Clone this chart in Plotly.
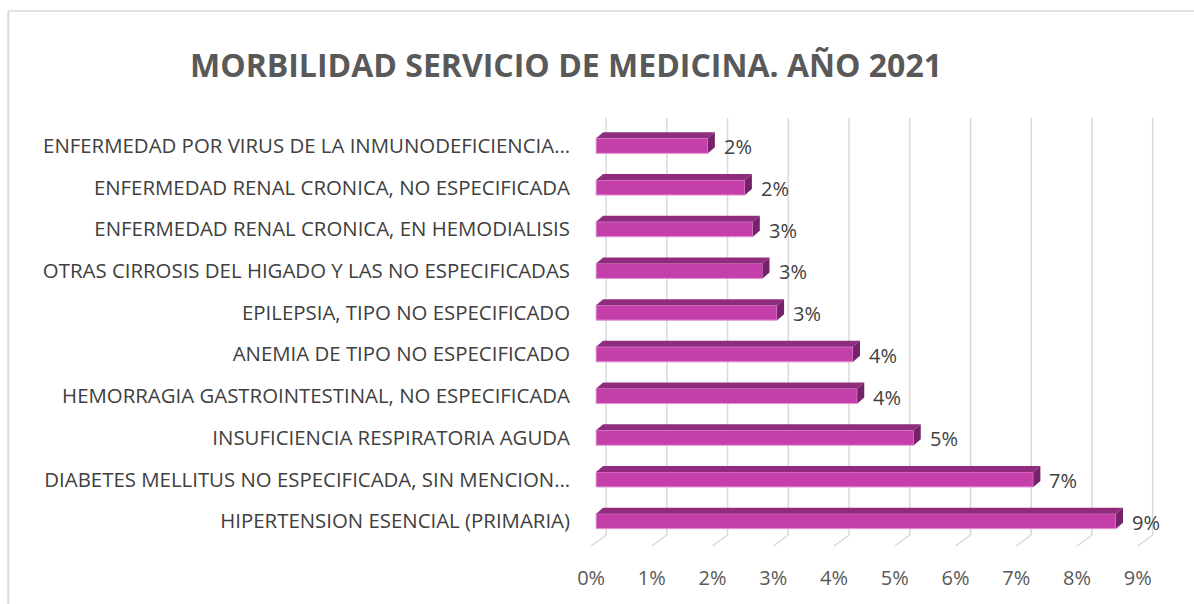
import plotly.graph_objects as go

categories = [
    "ENFERMEDAD POR VIRUS DE LA INMUNODEFICIENCIA…",
    "ENFERMEDAD RENAL CRONICA, NO ESPECIFICADA",
    "ENFERMEDAD RENAL CRONICA, EN HEMODIALISIS",
    "OTRAS CIRROSIS DEL HIGADO Y LAS NO ESPECIFICADAS",
    "EPILEPSIA, TIPO NO ESPECIFICADO",
    "ANEMIA DE TIPO NO ESPECIFICADO",
    "HEMORRAGIA GASTROINTESTINAL, NO ESPECIFICADA",
    "INSUFICIENCIA RESPIRATORIA AGUDA",
    "DIABETES MELLITUS NO ESPECIFICADA, SIN MENCION…",
    "HIPERTENSION ESENCIAL (PRIMARIA)",
]
values = [1.84, 2.45, 2.58, 2.74, 2.98, 4.23, 4.30, 5.23, 7.20, 8.56]
value_labels = ["2%", "2%", "3%", "3%", "3%", "4%", "4%", "5%", "7%", "9%"]
x_ticks = [0, 1, 2, 3, 4, 5, 6, 7, 8, 9]
x_tick_labels = ["0%", "1%", "2%", "3%", "4%", "5%", "6%", "7%", "8%", "9%"]

FONT = "Open Sans"
FRONT = "#C43FA9"
TOP = "#8F2C7E"
SIDE = "#76226A"
GRID = "#D9D9D9"

# pixel geometry of the plot area
W, H = 1194, 604
ppu = 60.75              # pixels per x unit
zero_px = 596            # pixel of x=0 (bar start)
xmin, xmax = -0.15, 9.4
L = zero_px + xmin * ppu
R = W - (zero_px + xmax * ppu)
T, B = 125, 62
pw = W - L - R
ph = H - T - B
ypu = ph / 10.0          # pixels per category

bar_w = 0.36
dx = 7 / ppu             # depth offset (x)
dy = 6 / ypu             # depth offset (y)
back_dx = 10 / ppu       # back wall offset for gridlines
front_dx = -5 / ppu      # front edge of floor

idx = list(range(len(categories)))

fig = go.Figure()

# front faces
fig.add_trace(go.Bar(
    x=values, y=idx, orientation="h", width=bar_w,
    marker=dict(color=FRONT, line=dict(color="#E394D6", width=1)),
    hoverinfo="skip", showlegend=False,
))

# top and side faces (3D effect)
for i, v in zip(idx, values):
    yt = i - bar_w / 2
    yb = i + bar_w / 2
    fig.add_trace(go.Scatter(
        x=[0, v, v + dx, dx, 0], y=[yt, yt, yt - dy, yt - dy, yt],
        fill="toself", fillcolor=TOP, mode="lines",
        line=dict(width=0, color=TOP), hoverinfo="skip", showlegend=False))
    fig.add_trace(go.Scatter(
        x=[v, v, v + dx, v + dx, v], y=[yt, yb, yb - dy, yt - dy, yt],
        fill="toself", fillcolor=SIDE, mode="lines",
        line=dict(width=0, color=SIDE), hoverinfo="skip", showlegend=False))

# data labels
for i, v, lab in zip(idx, values, value_labels):
    fig.add_annotation(x=v, y=i, text=lab, showarrow=False, xanchor="left",
                       yanchor="middle", xshift=14, yshift=-1,
                       font=dict(family=FONT, size=20, color="#404040"))

# gridlines on the back wall + floor diagonals
shapes = []
y_top_px, y_back_px, y_front_px = 118, 535, 546
def py(p):
    return (H - B - p) / ph
def px(p):
    return (p - L) / pw
for t in x_ticks:
    shapes.append(dict(type="line", xref="x", yref="paper",
                       x0=t + back_dx, x1=t + back_dx, y0=py(y_back_px), y1=py(y_top_px),
                       line=dict(color=GRID, width=1.5), layer="below"))
    shapes.append(dict(type="line", xref="x", yref="paper",
                       x0=t + back_dx, x1=t + front_dx, y0=py(y_back_px), y1=py(y_front_px),
                       line=dict(color=GRID, width=1.5), layer="below"))
# chart border (left and top edges only visible)
shapes.append(dict(type="line", xref="paper", yref="paper",
                   x0=px(8), x1=px(W + 5), y0=py(11), y1=py(11),
                   line=dict(color="#D9D9D9", width=1.5), layer="below"))
shapes.append(dict(type="line", xref="paper", yref="paper",
                   x0=px(8), x1=px(8), y0=py(11), y1=py(H + 5),
                   line=dict(color="#D9D9D9", width=2), layer="below"))

fig.update_layout(
    width=W, height=H,
    margin=dict(l=L, r=R, t=T, b=B, pad=0),
    paper_bgcolor="white", plot_bgcolor="white",
    shapes=shapes,
    showlegend=False,
    title=dict(text="<b>MORBILIDAD SERVICIO DE MEDICINA. AÑO 2021</b>",
               x=566 / W, xanchor="center", y=1 - 66 / H, yanchor="middle",
               xref="container", yref="container",
               font=dict(family=FONT, size=32, color="#595959")),
    xaxis=dict(range=[xmin, xmax], tickvals=[t + front_dx for t in x_ticks],
               ticktext=x_tick_labels, showgrid=False, zeroline=False,
               showline=False, ticks="", ticklabelstandoff=22,
               tickfont=dict(family=FONT, size=20, color="#595959")),
    yaxis=dict(range=[9.5, -0.5], tickvals=idx, ticktext=categories,
               showgrid=False, zeroline=False, showline=False, ticks="",
               ticklabelstandoff=16,
               tickfont=dict(family=FONT, size=20.4, color="#404040")),
)

fig.write_html("out.html", config={"displayModeBar": False},
               post_script="document.body.style.margin='0px';document.body.style.overflow='hidden';")
